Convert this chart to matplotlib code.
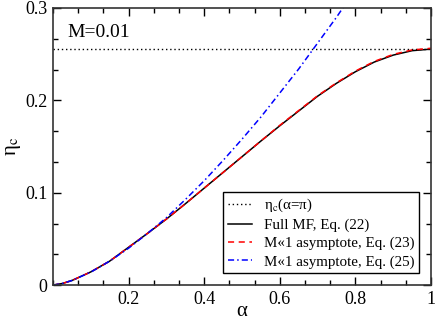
import numpy as np
import matplotlib.pyplot as plt
from matplotlib.ticker import MultipleLocator

# values
alpha_full = [0.0, 0.025, 0.05, 0.1, 0.15, 0.2, 0.25, 0.3, 0.35, 0.4, 0.45, 0.5, 0.55,
              0.6, 0.65, 0.7, 0.75, 0.8, 0.85, 0.9, 0.95, 1.0]
eta_full = [0.0, 0.0018, 0.005, 0.0143, 0.026, 0.041, 0.056, 0.0715, 0.088, 0.105, 0.122,
            0.139, 0.156, 0.1725, 0.1885, 0.2045, 0.2185, 0.231, 0.2415, 0.249, 0.2538, 0.2555]
eta_asym23 = [0.0, 0.0018, 0.005, 0.0143, 0.026, 0.041, 0.056, 0.0715, 0.088, 0.105, 0.122,
              0.139, 0.156, 0.173, 0.189, 0.205, 0.219, 0.2317, 0.2422, 0.2498, 0.2546, 0.2564]
alpha_asym25 = [0.0, 0.025, 0.05, 0.1, 0.15, 0.2, 0.25, 0.3, 0.35, 0.4, 0.45, 0.5, 0.55,
                0.6, 0.65, 0.7, 0.75, 0.78]
eta_asym25 = [0.0, 0.0018, 0.005, 0.0141, 0.026, 0.040, 0.056, 0.073, 0.0926, 0.113, 0.135,
              0.158, 0.182, 0.208, 0.234, 0.262, 0.290, 0.308]
eta_pi = 0.256

plt.rcParams['font.family'] = ['Liberation Serif', 'DejaVu Serif']
plt.rcParams['mathtext.fontset'] = 'stix'

fig = plt.figure(figsize=(4.36, 3.2), dpi=100)
ax = fig.add_axes([0.1216, 0.109, 0.8669, 0.866])

ax.axhline(eta_pi, color='black', ls=(0, (1, 2)), lw=1.0, label=r'η$_\mathrm{c}$(α=π)')
ax.plot(alpha_full, eta_full, color='black', lw=1.1, label='Full MF, Eq. (22)')
ax.plot(alpha_full, eta_asym23, color='red', lw=1.1, ls=(0, (4, 3)),
        label='M«1 asymptote, Eq. (23)')
ax.plot(alpha_asym25, eta_asym25, color='blue', lw=1.1, ls=(0, (4, 2, 1, 2)),
        label='M«1 asymptote, Eq. (25)')

ax.set_xlim(0, 1)
ax.set_ylim(0, 0.3)
ax.set_xticks([0.2, 0.4, 0.6, 0.8, 1.0])
ax.set_xticklabels(['0.2', '0.4', '0.6', '0.8', '1'])
ax.set_yticks([0, 0.1, 0.2, 0.3])
ax.set_yticklabels(['0', '0.1', '0.2', '0.3'])
ax.xaxis.set_minor_locator(MultipleLocator(0.2 / 3))
ax.yaxis.set_minor_locator(MultipleLocator(0.1 / 3))
ax.tick_params(which='both', direction='in', top=True, right=True, labelsize=13, width=1.0)
ax.tick_params(which='major', length=6, pad=4)
ax.tick_params(which='minor', length=3.5)
for s in ax.spines.values():
    s.set_linewidth(1.2)
    s.set_color('#333333')

ax.set_xlabel('α', fontsize=15, va='baseline')
ax.xaxis.set_label_coords(0.5, -0.112)
ax.set_ylabel(r'η$_\mathrm{c}$', fontsize=15)
ax.yaxis.set_label_coords(-0.08, 0.5)
ax.text(0.037, 0.2686, 'M=0.01', fontsize=14)

leg = ax.legend(loc='lower right', fontsize=10.8, frameon=True, fancybox=False,
                edgecolor='black', framealpha=1, handlelength=1.6, borderpad=0.3,
                labelspacing=0.3, handletextpad=0.8, borderaxespad=0.8)
leg.get_frame().set_linewidth(1.0)

fig.savefig('out.png', dpi=100)
